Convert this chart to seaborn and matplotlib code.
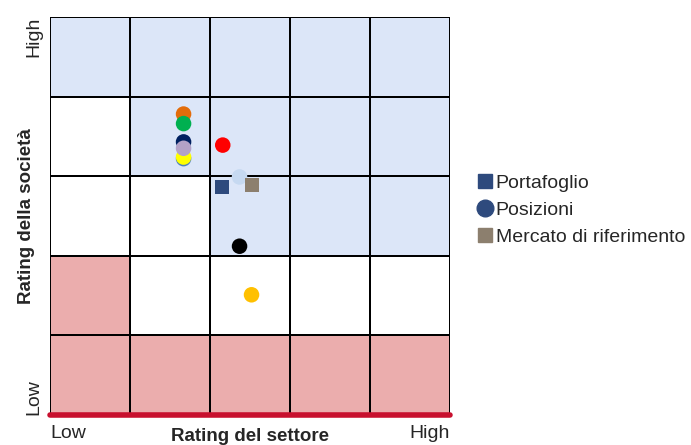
import numpy as np
import pandas as pd
import matplotlib.pyplot as plt
from matplotlib.colors import ListedColormap
from matplotlib.lines import Line2D
import seaborn as sns

sns.set_style("white")
plt.rcParams['font.family'] = ['Liberation Sans', 'DejaVu Sans']

# zone grid, bottom row first: 0 = red, 1 = white, 2 = blue
zones = [
    [0, 0, 0, 0, 0],
    [0, 1, 1, 1, 1],
    [1, 1, 2, 2, 2],
    [1, 2, 2, 2, 2],
    [2, 2, 2, 2, 2],
]
zone_colors = ["#ebadad", "#ffffff", "#dce6f8"]

# positions (circles)
pos_x = [1.67, 1.67, 1.67, 1.67, 1.67, 1.67, 2.16, 2.37, 2.37, 2.52]
pos_y = [3.78, 3.66, 3.43, 3.22, 3.24, 3.35, 3.39, 2.99, 2.12, 1.51]
pos_col = ["#e36c0a", "#00b050", "#002060", "#4f81bd", "#ffff00", "#b3a2c7",
           "#ff0000", "#c6d9f1", "#000000", "#ffc000"]

# portfolio and benchmark (squares)
port_x, port_y = [2.15], [2.86]
bench_x, bench_y = [2.52], [2.89]

legend_labels = ["Portafoglio", "Posizioni", "Mercato di riferimento"]

fig, ax = plt.subplots(figsize=(6.91, 4.45), dpi=100)
fig.subplots_adjust(left=0.0724, right=0.651, bottom=0.0674, top=0.962)

ax.pcolormesh(np.arange(6), np.arange(6), np.array(zones),
              cmap=ListedColormap(zone_colors), vmin=-0.5, vmax=2.5,
              edgecolors="black", linewidth=1.2)

df = pd.DataFrame({"x": pos_x, "y": pos_y, "c": pos_col})
sns.scatterplot(data=df, x="x", y="y", hue="c", palette=dict(zip(pos_col, pos_col)),
                s=125, marker="o", linewidth=0, legend=False, ax=ax, zorder=3)
sns.scatterplot(x=port_x, y=port_y, color="#2e4a7d", marker="s", s=100,
                linewidth=0, ax=ax, zorder=3)
sns.scatterplot(x=bench_x, y=bench_y, color="#8c7f6e", marker="s", s=100,
                linewidth=0, ax=ax, zorder=3)

ax.set_xlim(0, 5)
ax.set_ylim(0, 5)
ax.set_xticks([])
ax.set_yticks([])
for s in ax.spines.values():
    s.set_visible(False)
ax.axhline(0, color="#c8102e", linewidth=4, zorder=5, clip_on=False)

ax.set_xlabel("Rating del settore", fontsize=13.5, fontweight="bold", labelpad=9)
ax.set_ylabel("Rating della società", fontsize=13.5, fontweight="bold", labelpad=11)
ax.text(0, -0.12, "Low", ha="left", va="top", fontsize=14)
ax.text(5, -0.12, "High", ha="right", va="top", fontsize=14)
ax.text(-0.1, 0, "Low", rotation=90, ha="right", va="bottom", fontsize=14)
ax.text(-0.1, 5, "High", rotation=90, ha="right", va="top", fontsize=14)

handles = [
    Line2D([], [], marker="s", color="#2e4a7d", linestyle="none", markersize=10),
    Line2D([], [], marker="o", color="#2e4a7d", linestyle="none", markersize=12),
    Line2D([], [], marker="s", color="#8c7f6e", linestyle="none", markersize=10),
]
fig.legend(handles, legend_labels,
           loc="center left", bbox_to_anchor=(0.664, 0.528), frameon=False,
           fontsize=14, handletextpad=0.1, labelspacing=0.5, handlelength=0.9)

fig.savefig("out.png", dpi=100)
